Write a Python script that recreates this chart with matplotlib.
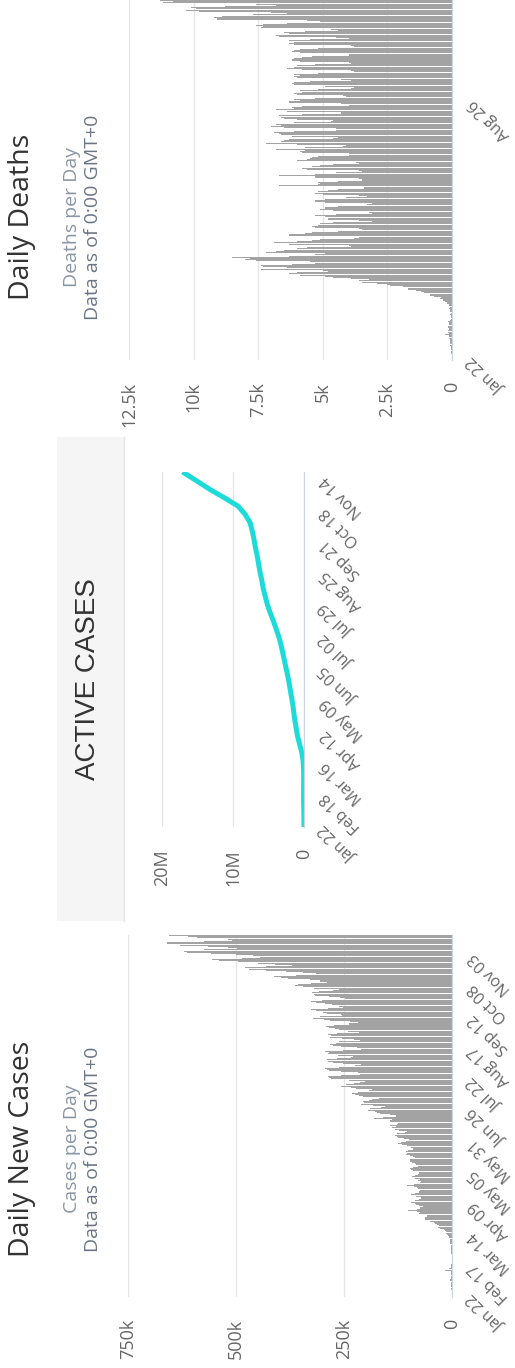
import pandas as pd
import matplotlib.pyplot as plt
from matplotlib.patches import Rectangle

plt.rcParams['font.family'] = ['Open Sans', 'DejaVu Sans']

START = pd.Timestamp('2020-01-22')

# daily new cases, thousands (one row = one week, Wed..Tue, from Jan 22 2020)
new_cases = [
    0.1, 0.3, 0.3, 0.7, 0.7, 0.8, 1.7,
    1.7, 2.0, 2.1, 2.6, 2.8, 3.2, 3.9,
    3.7, 3.2, 3.4, 2.7, 3.0, 2.5, 2.0,
    2.0, 15.1, 6.5, 2.2, 2.1, 2.0, 1.9,
    0.5, 0.6, 1.0, 0.7, 0.9, 0.6, 0.9,
    1.1, 1.2, 1.6, 1.9, 2.0, 1.8, 2.4,
    2.3, 2.7, 3.9, 4.0, 3.6, 4.0, 4.7,
    7.0, 7.4, 10.3, 11.0, 13.6, 15.0, 17.0,
    19, 27, 32, 30, 34, 40, 41,
    50, 63, 63, 62, 58, 59, 77,
    75, 80, 101, 80, 75, 67, 76,
    84, 86, 95, 85, 77, 72, 72,
    83, 94, 85, 77, 77, 73, 78,
    80, 88, 104, 88, 75, 71, 78,
    75, 85, 92, 85, 79, 76, 76,
    91, 95, 98, 90, 78, 84, 86,
    93, 98, 97, 97, 86, 90, 97,
    106, 104, 107, 101, 91, 90, 96,
    104, 115, 124, 118, 107, 100, 110,
    125, 128, 132, 127, 109, 104, 123,
    133, 138, 130, 143, 128, 124, 143,
    143, 140, 181, 160, 130, 143, 167,
    173, 179, 195, 190, 165, 156, 183,
    210, 204, 206, 192, 185, 170, 205,
    215, 225, 231, 217, 193, 185, 223,
    234, 256, 245, 226, 213, 201, 238,
    279, 285, 287, 258, 213, 218, 256,
    285, 290, 294, 261, 225, 211, 253,
    275, 286, 290, 266, 233, 230, 264,
    286, 284, 294, 252, 211, 220, 256,
    275, 283, 269, 262, 213, 226, 255,
    282, 279, 286, 266, 215, 240, 262,
    270, 285, 292, 274, 239, 218, 237,
    283, 297, 321, 306, 255, 256, 289,
    299, 314, 327, 287, 252, 262, 277,
    293, 314, 326, 302, 247, 259, 285,
    318, 320, 325, 307, 275, 262, 320,
    345, 363, 357, 326, 289, 305, 328,
    380, 396, 412, 360, 315, 345, 384,
    430, 470, 480, 430, 370, 410, 450,
    495, 540, 555, 485, 445, 460, 500,
    557, 613, 620, 575, 497, 519, 565,
    630, 660, 659, 573, 510, 519, 590,
    612, 655,
]

# daily deaths, thousands
deaths = [
    0.008, 0.001, 0.008, 0.016, 0.014, 0.026, 0.026,
    0.038, 0.043, 0.046, 0.045, 0.057, 0.064, 0.066,
    0.073, 0.073, 0.086, 0.089, 0.097, 0.108, 0.097,
    0.254, 0.121, 0.143, 0.142, 0.106, 0.098, 0.139,
    0.137, 0.118, 0.109, 0.097, 0.150, 0.071, 0.052,
    0.029, 0.044, 0.048, 0.062, 0.053, 0.066, 0.073,
    0.084, 0.105, 0.095, 0.102, 0.104, 0.206, 0.212,
    0.276, 0.348, 0.448, 0.425, 0.703, 0.836, 0.861,
    1.1, 1.2, 1.4, 1.7, 1.7, 1.9, 2.4,
    2.5, 2.9, 3.5, 3.6, 3.2, 3.9, 4.6,
    4.9, 5.9, 6.3, 6.0, 4.8, 5.0, 7.4,
    6.4, 7.3, 7.4, 6.2, 5.3, 5.5, 7.6,
    8.0, 7.8, 8.5, 6.3, 5.3, 4.9, 7.2,
    6.8, 6.5, 6.0, 5.6, 3.9, 4.0, 6.3,
    6.9, 6.0, 5.4, 5.1, 3.8, 3.6, 6.3,
    6.3, 5.7, 5.4, 4.4, 3.5, 3.6, 5.3,
    5.4, 5.2, 5.1, 4.6, 3.1, 3.6, 4.8,
    4.8, 4.9, 5.3, 4.5, 3.1, 3.2, 4.6,
    5.1, 4.9, 4.9, 4.4, 3.3, 3.1, 4.9,
    5.3, 5.3, 4.9, 4.1, 3.3, 3.6, 5.0,
    5.3, 5.2, 4.8, 4.4, 3.4, 3.4, 6.7,
    5.2, 5.1, 5.2, 4.4, 3.5, 3.6, 5.3,
    5.3, 6.7, 5.3, 4.5, 3.5, 3.6, 5.6,
    5.8, 5.4, 5.1, 4.6, 3.6, 3.7, 6.0,
    5.6, 5.5, 5.4, 5.2, 4.0, 4.0, 5.8,
    5.9, 5.7, 6.8, 5.7, 4.2, 4.1, 6.0,
    7.2, 6.6, 6.5, 6.3, 4.6, 4.4, 6.2,
    6.6, 6.7, 6.9, 6.1, 4.5, 4.5, 6.5,
    7.0, 6.6, 6.8, 6.1, 4.7, 4.6, 6.0,
    6.5, 6.6, 6.7, 5.8, 4.3, 4.3, 6.4,
    6.8, 6.1, 6.2, 5.8, 4.0, 4.3, 6.3,
    6.3, 5.9, 6.1, 5.3, 4.1, 4.2, 6.0,
    6.1, 5.8, 5.9, 5.2, 3.9, 3.8, 4.9,
    6.1, 6.2, 6.1, 5.5, 3.9, 4.3, 6.0,
    6.1, 5.9, 6.1, 5.2, 3.8, 3.9, 5.8,
    6.4, 6.1, 6.0, 5.3, 3.9, 4.0, 5.9,
    6.2, 6.1, 5.8, 5.4, 4.0, 4.0, 5.9,
    6.2, 6.1, 5.9, 5.2, 3.8, 3.9, 6.1,
    6.3, 6.1, 6.3, 5.5, 4.0, 4.5, 6.7,
    6.8, 6.3, 6.5, 5.7, 4.4, 4.7, 7.4,
    7.3, 7.6, 7.3, 6.4, 5.1, 5.6, 9.1,
    9.1, 9.2, 8.9, 7.7, 6.4, 7.0, 9.8,
    10.3, 9.9, 10.1, 8.8, 6.8, 7.6, 11.2,
    10.8, 11.3,
]

# active cases, millions
active_dates = ['2020-01-22', '2020-01-29', '2020-02-05', '2020-02-12', '2020-02-19',
                '2020-02-26', '2020-03-04', '2020-03-11', '2020-03-18', '2020-03-25',
                '2020-04-01', '2020-04-08', '2020-04-15', '2020-04-22', '2020-04-29',
                '2020-05-06', '2020-05-13', '2020-05-20', '2020-05-27', '2020-06-03',
                '2020-06-10', '2020-06-17', '2020-06-24', '2020-07-01', '2020-07-08',
                '2020-07-15', '2020-07-22', '2020-07-29', '2020-08-05', '2020-08-12',
                '2020-08-19', '2020-08-26', '2020-09-02', '2020-09-09', '2020-09-16',
                '2020-09-23', '2020-09-30', '2020-10-07', '2020-10-14', '2020-10-21',
                '2020-10-28', '2020-11-04', '2020-11-11', '2020-11-19']
active_vals = [0.0005, 0.006, 0.026, 0.053, 0.057,
               0.047, 0.04, 0.05, 0.12, 0.3,
               0.6, 0.9, 1.1, 1.3, 1.45,
               1.6, 1.8, 2.0, 2.2, 2.45,
               2.7, 2.95, 3.2, 3.5, 3.9,
               4.3, 4.75, 5.15, 5.45, 5.75,
               5.95, 6.2, 6.4, 6.6, 6.85,
               7.05, 7.3, 7.6, 8.3, 9.3,
               11.2, 13.2, 15.0, 17.1]

case_ticks = [0, 250, 500, 750]
case_tick_labels = ['0', '250k', '500k', '750k']
case_dates = ['Jan 22', 'Feb 17', 'Mar 14', 'Apr 09', 'May 05', 'May 31',
              'Jun 26', 'Jul 22', 'Aug 17', 'Sep 12', 'Oct 08', 'Nov 03']

active_ticks = [0, 10, 20]
active_tick_labels = ['0', '10M', '20M']
active_date_labels = ['Jan 22', 'Feb 18', 'Mar 16', 'Apr 12', 'May 09', 'Jun 05',
                      'Jul 02', 'Jul 29', 'Aug 25', 'Sep 21', 'Oct 18', 'Nov 14']

death_ticks = [0, 2.5, 5, 7.5, 10, 12.5]
death_tick_labels = ['0', '2.5k', '5k', '7.5k', '10k', '12.5k']
death_dates = ['Jan 22', 'Aug 26']


def day_index(labels):
    return [(pd.to_datetime(l + ' 2020', format='%b %d %Y') - START).days for l in labels]


def style(ax, vticks, vlabels, dlabels):
    ax.set_xticks(vticks, vlabels)
    ax.xaxis.grid(True, color='#e6e6e6', lw=0.9)
    ax.set_axisbelow(True)
    for s in ['top', 'bottom', 'left']:
        ax.spines[s].set_visible(False)
    ax.spines['right'].set_color('#ccd6eb')
    ax.spines['right'].set_linewidth(0.9)
    ax.tick_params(axis='x', length=0, pad=16, labelrotation=90,
                   labelsize=13, labelcolor='#666666')
    ax.yaxis.tick_right()
    ax.set_yticks(day_index(dlabels), dlabels, rotation=135, rotation_mode='anchor',
                  ha='right', va='center', color='#666666', fontsize=11.5)
    ax.tick_params(axis='y', length=0, pad=14)


W, H = 515, 1368
fig = plt.figure(figsize=(W / 100, H / 100), dpi=100)


def rect(x0, y0, x1, y1):
    # pixel box (top-left origin) -> figure fraction
    return [x0 / W, 1 - y1 / H, (x1 - x0) / W, (y1 - y0) / H]


# Daily new cases
ax1 = fig.add_axes(rect(128, 935, 452, 1297))
ax1.barh(range(len(new_cases)), new_cases, height=0.85, color='#a3a3a3', linewidth=0)
ax1.set_xlim(750, 0)
ax1.set_ylim(-0.5, len(new_cases) - 0.5)
style(ax1, case_ticks, case_tick_labels, case_dates)

# Active cases
ax2 = fig.add_axes(rect(162, 472, 304, 827))
ad = [(pd.Timestamp(d) - START).days for d in active_dates]
ax2.plot(active_vals, ad, color='#1ddbd8', lw=3.6, solid_capstyle='butt',
         solid_joinstyle='round')
ax2.set_xlim(20, 0)
ax2.set_ylim(0, ad[-1])
style(ax2, active_ticks, active_tick_labels, active_date_labels)

# Daily deaths
ax3 = fig.add_axes(rect(129, 0, 452, 360))
ax3.barh(range(len(deaths)), deaths, height=0.85, color='#a3a3a3', linewidth=0)
ax3.set_xlim(12.5, 0)
ax3.set_ylim(-0.5, len(deaths) - 0.5)
style(ax3, death_ticks, death_tick_labels, death_dates)

# title panel for active cases
px = rect(57, 437, 124, 921)
fig.patches.append(Rectangle((px[0], px[1]), px[2], px[3], transform=fig.transFigure,
                             facecolor='#f5f5f5', edgecolor='none', zorder=0))
fig.add_artist(plt.Line2D([124 / W, 124 / W], [px[1], px[1] + px[3]],
                          transform=fig.transFigure, color='#e4e4e4', lw=1))
fig.text(88 / W, 1 - 679 / H, 'ACTIVE CASES', rotation=90, ha='center', va='center',
         fontsize=20, color='#333333', family=['Liberation Sans', 'DejaVu Sans'])

# titles
for yc, title, sub in [(1149, 'Daily New Cases', 'Cases per Day'),
                       (217, 'Daily Deaths', 'Deaths per Day')]:
    fig.text(22 / W, 1 - yc / H, title, rotation=90, ha='center', va='center',
             fontsize=20.5, color='#333333')
    fig.text(72 / W, 1 - yc / H, sub, rotation=90, ha='center', va='center',
             fontsize=14, color='#8a95a5')
    fig.text(93 / W, 1 - yc / H, 'Data as of 0:00 GMT+0', rotation=90, ha='center',
             va='center', fontsize=14, color='#6b7585')

fig.savefig('out.png', dpi=100)
